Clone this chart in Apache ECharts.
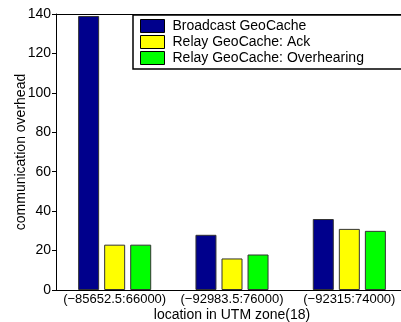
<!DOCTYPE html>
<html>
<head>
<meta charset="utf-8">
<script src="https://cdn.jsdelivr.net/npm/echarts@6/dist/echarts.min.js"></script>
<style>
  html, body { margin: 0; padding: 0; background: #fff; }
  #chart { width: 401px; height: 322px; }
</style>
</head>
<body>
<div id="chart"></div>
<script>
// Communication overhead per location, three caching schemes
const locations = ['(\u221285652.5:66000)', '(\u221292983.5:76000)', '(\u221292315:74000)'];
const seriesNames = ['Broadcast GeoCache', 'Relay GeoCache: Ack', 'Relay GeoCache: Overhearing'];
const broadcast = [139, 28, 36];
const relayAck = [23, 16, 31];
const relayOverhearing = [23, 18, 30];
const yTicks = [0, 20, 40, 60, 80, 100, 120, 140];

const colors = ['#00008c', '#ffff00', '#00ff00'];
const font = '"Liberation Sans", Arial, Helvetica, sans-serif';

const chart = echarts.init(document.getElementById('chart'), null, { renderer: 'canvas' });

function barSeries(name, data, color) {
  return {
    name: name,
    type: 'bar',
    data: data,
    xAxisIndex: 0,
    barWidth: 21,
    barGap: '24%',
    itemStyle: { color: color, borderColor: '#333', borderWidth: 1 },
    emphasis: { disabled: true }
  };
}

chart.setOption({
  animation: false,
  backgroundColor: '#fff',
  textStyle: { fontFamily: font, color: '#000' },
  grid: { left: 56, top: 14, right: -7, bottom: 32, containLabel: false, outerBoundsMode: 'none' },
  // legend frame runs past the right edge of the canvas
  graphic: [{
    type: 'polyline',
    z: 5,
    shape: { points: [[460, 15], [133, 15], [133, 69], [460, 69]] },
    style: { fill: '#fff', stroke: '#000', lineWidth: 1.5 }
  }],
  legend: {
    z: 10,
    orient: 'vertical',
    left: 133,
    top: 15,
    padding: [4, 10, 4, 7],
    borderWidth: 0,
    itemWidth: 24,
    itemHeight: 13,
    itemGap: 2,
    icon: 'rect',
    itemStyle: { borderColor: '#000', borderWidth: 1 },
    textStyle: { fontFamily: font, fontSize: 14, color: '#000', lineHeight: 14, padding: [0, 0, 0, 3] },
    data: seriesNames
  },
  xAxis: [
    {
      type: 'category',
      data: locations,
      position: 'bottom',
      name: 'location in UTM zone(18)',
      nameLocation: 'middle',
      nameGap: 18,
      nameMoveOverlap: false,
      nameTextStyle: { fontFamily: font, fontSize: 14, color: '#000' },
      axisLine: { lineStyle: { color: '#000', width: 1 } },
      axisTick: { inside: true, length: 4, alignWithLabel: true, lineStyle: { color: '#000' } },
      axisLabel: { fontFamily: font, fontSize: 13, color: '#000', margin: 3, interval: 0 }
    },
    {
      type: 'category',
      data: locations,
      position: 'top',
      axisLine: { lineStyle: { color: '#000', width: 1 } },
      axisTick: { inside: true, length: 4, alignWithLabel: true, lineStyle: { color: '#000' } },
      axisLabel: { show: false }
    }
  ],
  yAxis: {
    type: 'value',
    min: yTicks[0],
    max: yTicks[yTicks.length - 1],
    interval: 20,
    name: 'communication overhead',
    nameLocation: 'middle',
    nameGap: 28,
    nameMoveOverlap: false,
    nameTextStyle: { fontFamily: font, fontSize: 14, color: '#000' },
    axisLine: { show: true, lineStyle: { color: '#000', width: 1 } },
    axisTick: { show: true, length: 4, lineStyle: { color: '#000' } },
    axisLabel: { fontFamily: font, fontSize: 14, color: '#000', margin: 5 },
    splitLine: { show: false }
  },
  series: [
    barSeries(seriesNames[0], broadcast, colors[0]),
    barSeries(seriesNames[1], relayAck, colors[1]),
    barSeries(seriesNames[2], relayOverhearing, colors[2])
  ]
});
</script>
</body>
</html>
